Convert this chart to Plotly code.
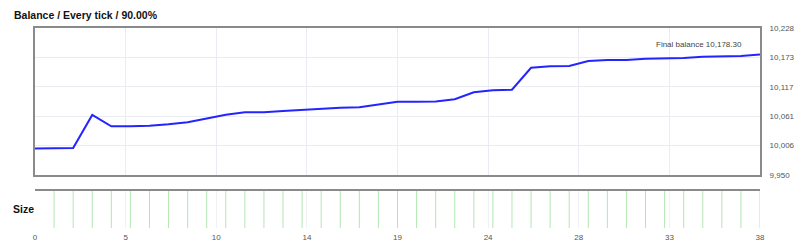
import plotly.graph_objects as go

# ---- data ----
trade_index = list(range(0, 39))
balance = [10000.0, 10000.5, 10001.0, 10063.6, 10042.2, 10042.5, 10043.3, 10046.0, 10049.8,
           10057.0, 10064.2, 10068.7, 10068.9, 10071.0, 10073.0, 10076.3, 10077.4, 10078.2,
           10083.5, 10088.8, 10088.9, 10089.2, 10093.3, 10106.5, 10110.3, 10111.5, 10153.1,
           10155.8, 10156.3, 10165.8, 10167.7, 10167.9, 10170.2, 10171.0, 10171.5, 10174.0,
           10174.6, 10175.3, 10178.3]
size_index = list(range(1, 39))
sizes = [1.0] * 38

y_tickvals = [9950.0, 10005.66, 10061.32, 10116.98, 10172.64, 10228.3]
y_ticktext = ["9,950", "10,006", "10,061", "10,117", "10,173", "10,228"]
x_tickvals = [0, 4.75, 9.5, 14.25, 19, 23.75, 28.5, 33.25, 38]
x_ticktext = ["0", "5", "10", "14", "19", "24", "28", "33", "38"]

title_text = "Balance / Every tick / 90.00%"
final_text = "Final balance 10,178.30"
size_label = "Size"

# ---- figure ----
fig = go.Figure()
fig.add_trace(go.Scatter(x=trade_index, y=balance, mode="lines",
                         line=dict(color="#2424ff", width=2), xaxis="x", yaxis="y",
                         showlegend=False, hoverinfo="skip"))

sx, sy = [], []
for xi, s in zip(size_index, sizes):
    sx += [xi, xi, None]
    sy += [0, s, None]
fig.add_trace(go.Scatter(x=sx, y=sy, mode="lines",
                         line=dict(color="#b4e6b4", width=1), xaxis="x2", yaxis="y2",
                         showlegend=False, hoverinfo="skip"))

grid = "#ebebf2"
border = "#8a8a8a"
tickfont = dict(family="Liberation Sans, Arial, sans-serif", size=8, color="#555555")

fig.update_layout(
    width=800, height=250,
    margin=dict(l=35, r=40, t=28, b=22, autoexpand=False),
    paper_bgcolor="white", plot_bgcolor="white",
    font=dict(family="Liberation Sans, Arial, sans-serif"),
    xaxis=dict(domain=[0, 1], range=[0, 38], tickvals=x_tickvals, showticklabels=False,
               showgrid=True, gridcolor=grid, gridwidth=1, zeroline=False,
               showline=True, mirror=True, linecolor=border, linewidth=2, ticks="",
               anchor="y", automargin=False),
    yaxis=dict(domain=[0.265, 1], range=[9950, 10228.3], tickvals=y_tickvals,
               ticktext=y_ticktext, side="right", tickfont=tickfont,
               showgrid=True, gridcolor=grid, gridwidth=1, zeroline=False,
               showline=True, mirror=True, linecolor=border, linewidth=2, ticks="",
               ticklabelstandoff=6, anchor="x", automargin=False),
    xaxis2=dict(domain=[0, 1], range=[0, 38], tickvals=x_tickvals, ticktext=x_ticktext,
                tickfont=tickfont, showgrid=True, gridcolor="#f0f0f5", gridwidth=1,
                zeroline=False, showline=False,
                ticks="", anchor="y2", ticklabelstandoff=3, automargin=False),
    yaxis2=dict(domain=[0, 0.19], range=[0, 1], visible=False, anchor="x2",
                automargin=False),
    shapes=[dict(type="line", xref="paper", x0=0, x1=1, yref="y2 domain", y0=1, y1=1,
                 line=dict(color=border, width=2))],
    annotations=[
        dict(text="<b>" + title_text + "</b>", xref="paper", yref="paper", x=0, y=1,
             xanchor="left", yanchor="bottom", xshift=-23, yshift=5, showarrow=False,
             font=dict(size=10.5, color="#111111")),
        dict(text=final_text, xref="x", yref="y", x=38, y=balance[-1],
             xanchor="right", yanchor="middle", xshift=-16, yshift=10, showarrow=False,
             font=dict(size=8, color="#444444")),
        dict(text="<b>" + size_label + "</b>", xref="paper", yref="y2 domain", x=0, y=0.5,
             xanchor="left", yanchor="middle", xshift=-24, showarrow=False,
             font=dict(size=10.5, color="#111111")),
    ],
)

fig.write_html("out.html")
